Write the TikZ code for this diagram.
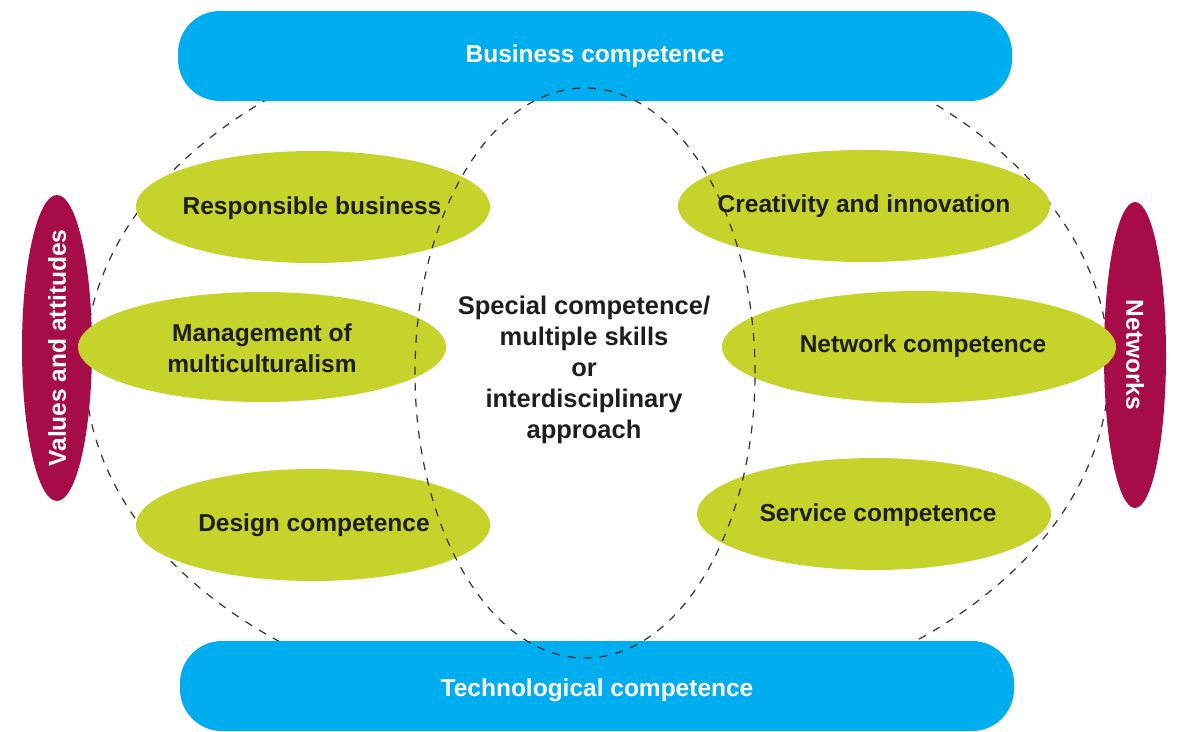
\documentclass[tikz,border=0pt]{standalone}
\usepackage{fontspec}
\setmainfont{Liberation Sans}
\usetikzlibrary{shapes.geometric}
\definecolor{barblue}{RGB}{0,174,239}
\definecolor{leaf}{RGB}{197,211,42}
\definecolor{berry}{RGB}{165,12,72}
\definecolor{ink}{RGB}{30,30,30}
\definecolor{dashgray}{RGB}{50,50,50}
\begin{document}
\begin{tikzpicture}[x=1pt,y=-1pt,
  lbl/.style={font=\bfseries\fontsize{24.5}{31}\selectfont, align=center, inner sep=0pt},
  bar/.style={lbl, rectangle, fill=barblue, rounded corners=42pt, minimum width=834pt, minimum height=90pt, text=white, inner sep=0pt},
  side/.style={ellipse, fill=berry, inner sep=0pt},
  comp/.style={ellipse, fill=leaf, inner sep=0pt},
  ctext/.style={lbl, text=ink},
  stext/.style={lbl, text=white},
  ring/.style={ellipse, draw=dashgray, line width=1.2pt, dash pattern=on 8pt off 8pt, inner sep=0pt},
]
\useasboundingbox[fill=white] (0,0) rectangle (1180,731);
% outer dashed ring (behind everything)
\node[ring, minimum width=1024pt, minimum height=700pt] (outer) at (597,367) {};
% bars
\node[bar] (business) at (595,56) {Business competence};
\node[bar, minimum height=90pt] (tech) at (597,686) {};
\node[lbl, text=white] (techtext) at (597,690) {Technological competence};
% side ellipses
\node[side, minimum width=70pt, minimum height=306pt] (values) at (57,348) {};
\node[stext, rotate=90] (valuestext) at (57,348) {Values and attitudes};
\node[side, minimum width=62pt, minimum height=306pt] (networks) at (1135,355) {};
\node[stext, rotate=-90] (networkstext) at (1135,355) {Networks};
% competence ellipses
\node[comp, minimum width=354pt, minimum height=112pt] (resp) at (313,207) {};
\node[comp, minimum width=368pt, minimum height=110pt] (mgmt) at (262,347) {};
\node[comp, minimum width=354pt, minimum height=112pt] (design) at (313,525) {};
\node[comp, minimum width=372pt, minimum height=112pt] (creat) at (864,206) {};
\node[comp, minimum width=394pt, minimum height=112pt] (netc) at (919,347) {};
\node[comp, minimum width=354pt, minimum height=112pt] (serv) at (874,514) {};
% central dashed ring on top
\node[ring, minimum width=340pt, minimum height=570pt] (inner) at (585,373) {};
% texts
\node[ctext] (resptext) at (312,208) {Responsible business};
\node[ctext] (mgmttext) at (262,348) {Management of\\multiculturalism};
\node[ctext] (designtext) at (314,525) {Design competence};
\node[ctext] (creattext) at (864,206) {Creativity and innovation};
\node[ctext] (netctext) at (923,346) {Network competence};
\node[ctext] (servtext) at (878,515) {Service competence};
\node[ctext, font=\bfseries\fontsize{25.5}{31}\selectfont] (special) at (584,370) {Special competence/\\multiple skills\\or\\interdisciplinary\\approach};
\end{tikzpicture}
\end{document}
